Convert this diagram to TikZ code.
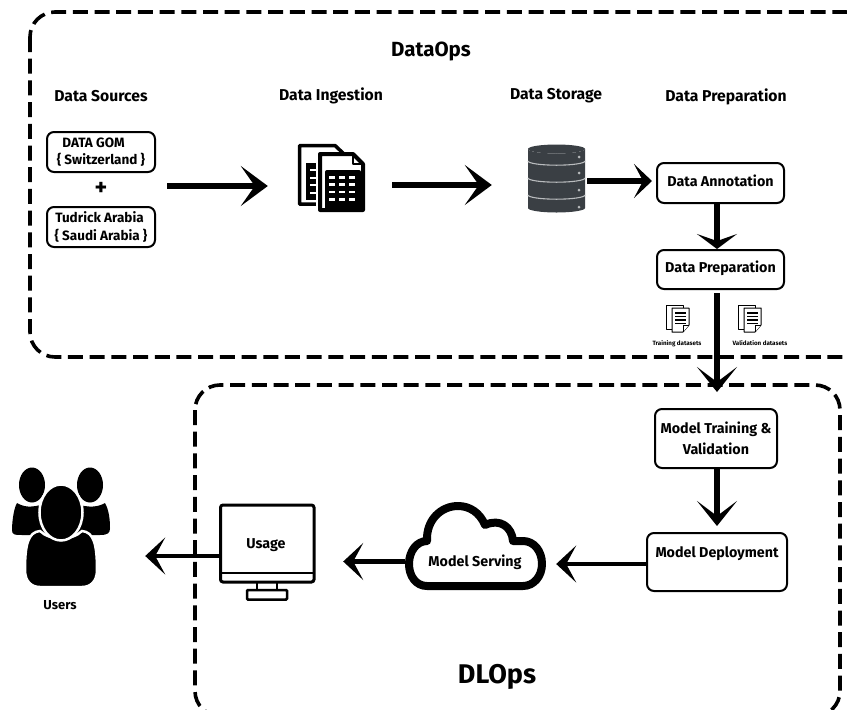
\documentclass[tikz,border=0pt]{standalone}
\usepackage{fontspec}
\setmainfont{Fira Sans}
\usetikzlibrary{arrows.meta}
\definecolor{dbdark}{HTML}{3A3F44}
\definecolor{dbgrey}{HTML}{B8BBBD}
\tikzset{
  x=1pt,y=-1pt,
  every node/.style={font=\bfseries\fontsize{14.3}{18}\selectfont,align=center,text=black,inner sep=0pt},
  groupbox/.style={draw=black,line width=3.6pt,rounded corners=25pt,dash pattern=on 15pt off 6.7pt},
  procbox/.style={draw=black,line width=2pt,rounded corners=7pt,fill=white},
  srcbox/.style={procbox,minimum width=108pt,minimum height=40pt,font=\bfseries\fontsize{13.5}{17.5}\selectfont},
  heading/.style={font=\bfseries\fontsize{15.7}{18}\selectfont},
  tiny/.style={font=\bfseries\fontsize{6.2}{7}\selectfont},
  iconbox/.style={inner sep=0pt,draw=none},
  bigarrow/.style={line width=6.5pt,-{Stealth[length=27pt,width=40pt,inset=14pt]}},
  tallarrow/.style={line width=5.5pt,-{Stealth[length=25pt,width=40pt,inset=15pt]}},
  flatarrow/.style={line width=5.5pt,-{Stealth[length=15pt,width=40pt,inset=7pt]}},
  sidearrow/.style={line width=5.5pt,-{Stealth[length=18pt,width=34pt,inset=9pt]}},
  thinarrow/.style={line width=4.5pt,-{Stealth[length=20pt,width=37pt,inset=10pt]}},
  sheet/.style={draw=black,line width=1pt,fill=white,line join=round},
  pics/minidoc/.style={code={
    \draw[sheet] (0,0) -- (17,0) -- (17,24) -- (0,24) -- cycle;
    \draw[sheet] (6,3) -- (23,3) -- (23,20) -- (17,27) -- (6,27) -- cycle;
    \draw[sheet] (23,20) -- (17,20) -- (17,27);
    \foreach \yy in {8,11.5,15,18.5}{\draw[black,line width=1.1pt] (9,\yy) -- (20,\yy);}
  }}
}
\begin{document}
\begin{tikzpicture}
\useasboundingbox (0,0) rectangle (847,710);
\clip (0,0) rectangle (847,710);
\fill[white] (0,0) rectangle (847,710);

% group frames
\draw[groupbox] (30,12) rectangle (871,357);
\draw[groupbox] (195,385) rectangle (840,716);

% titles and headings
\node[font=\bfseries\fontsize{20.5}{24}\selectfont] (dataops) at (431,51) {DataOps};
\node[font=\bfseries\fontsize{27}{30}\selectfont] (dlops) at (497,677) {DLOps};
\node[heading] (hsrc) at (101,96) {Data Sources};
\node[heading] (hing) at (331,96) {Data Ingestion};
\node[heading] (hsto) at (556,96) {Data Storage};
\node[heading] (hpre) at (726,97) {Data Preparation};

% data sources
\node[srcbox] (gom) at (101,152) {DATA GOM\hspace*{15pt}\\\{ Switzerland \}};
\node[srcbox] (tud) at (101,227) {Tudrick Arabia\hspace*{3pt}\\\{ Saudi Arabia \}};
\node[font=\bfseries\fontsize{24}{24}\selectfont] (plus) at (101,189) {+};
\coordinate (srcout) at (167,186);

% ingestion icon
\node[iconbox,minimum width=67pt,minimum height=68pt] (docs) at (331.5,178) {};
\draw[black,line width=3.5pt,line join=round,fill=white] (299.5,145.5) -- (335,145.5) -- (344,154) -- (344,204) -- (299.5,204) -- cycle;
\fill[black] (306,163) rectangle (322,200);
\foreach \yy in {169,176.5,184,191.5}{\fill[white] (310,\yy) rectangle (317,\yy+2.3);}
\draw[white,line width=2pt] (316.5,148) -- (316.5,212);
\draw[black,line width=4pt,line join=round,fill=white] (320,154) -- (353,154) -- (363,164) -- (363,210) -- (320,210) -- cycle;
\draw[black,line width=2pt,line join=round] (353,154) -- (353,164) -- (363,164);
\fill[black,rounded corners=2pt] (325,170) rectangle (361,210);
\foreach \xx in {332,342,351.5}{\foreach \yy in {176,183,190.5,198}{\fill[white] (\xx-3,\yy) rectangle (\xx+3,\yy+2.5);}}

% storage icon
\node[iconbox,minimum width=57pt,minimum height=68pt] (db) at (556.5,179) {};
\fill[dbdark] (528,149) arc[x radius=28.5pt,y radius=4.5pt,start angle=180,end angle=360] -- (585,208) arc[x radius=28.5pt,y radius=4.5pt,start angle=360,end angle=180] -- cycle;
\fill[dbdark] (556.5,149) ellipse[x radius=28.5pt,y radius=4.5pt];
\foreach \yy in {161,178,195}{\draw[dbgrey,line width=1.1pt] (528,\yy) arc[x radius=28.5pt,y radius=4.2pt,start angle=180,end angle=360];}
\foreach \yy in {157,173,190,207}{\fill[dbgrey] (579,\yy) circle[radius=1.5pt];}

% preparation
\node[procbox,minimum width=127pt,minimum height=40pt,text height=10pt,text depth=4pt] (anno) at (720.5,183) {Data Annotation};
\node[procbox,minimum width=127pt,minimum height=39pt,text height=10pt,text depth=5pt] (prep) at (720.5,269.5) {Data Preparation};
\pic at (666,305) {minidoc};
\pic at (738,305) {minidoc};
\node[tiny] (ltrain) at (677,344) {Training datasets};
\node[tiny] (lval) at (760,343) {Validation datasets};
\coordinate (annoout) at (717,203);
\coordinate (prepin) at (717,249);
\coordinate (prepout) at (717,293);

% DLOps
\node[procbox,minimum width=122pt,minimum height=59pt,font=\bfseries\fontsize{14.3}{21}\selectfont] (train) at (716,438.5) {Model Training \&\\Validation};
\node[procbox,minimum width=140pt,minimum height=58pt,text height=10pt,text depth=20pt] (deploy) at (717,562) {Model Deployment};

% cloud
\node[iconbox,minimum width=141pt,minimum height=90pt] (cloud) at (475.5,545) {};
\draw[black,line width=8pt,line join=round,fill=white]
  (427,586) .. controls (416,586) and (409,576) .. (409,564)
  .. controls (409,551) and (417,541) .. (427,541)
  .. controls (426,520) and (441,506) .. (458,506)
  .. controls (470,506) and (480,513) .. (485,525)
  .. controls (500,518) and (512,527) .. (513,541)
  -- (523,541) .. controls (534,541) and (542,551) .. (542,564)
  .. controls (542,576) and (534,586) .. (523,586) -- cycle;
\node (serving) at (475,562) {Model Serving};

% monitor
\node[iconbox,minimum width=97pt,minimum height=79pt] (usage) at (266.5,543.5) {};
\draw[black,line width=3pt,rounded corners=2.5pt,fill=white] (220.5,505) rectangle (314,582);
\draw[black,line width=2.5pt] (220.5,573) -- (314,573);
\draw[black,line width=2.5pt] (257,582) -- (257,590) (277,582) -- (277,590);
\draw[black,line width=2.5pt,rounded corners=1pt,fill=white] (247,590) rectangle (287,599.5);
\node (usagetxt) at (266,545) {Usage};

% users icon
\node[iconbox,minimum width=100pt,minimum height=120pt] (users) at (61,525) {};
\fill[black] (32,485) ellipse[x radius=13pt,y radius=17.5pt];
\fill[black] (90,485) ellipse[x radius=13pt,y radius=17.5pt];
\fill[black] (17,503) .. controls (13,510) and (12,525) .. (12,530) .. controls (12,535) and (15,535) .. (22,535) -- (100,535) .. controls (108,535) and (110,533) .. (110,528) .. controls (110,520) and (109,510) .. (105,503) .. controls (98,507) and (90,508) .. (75,504) -- (45,504) .. controls (30,508) and (24,507) .. (17,503) -- cycle;
\draw[white,line width=2.5pt,fill=black] (40,531) .. controls (28,532) and (25,545) .. (25,570) .. controls (25,582) and (32,587) .. (40,587) -- (82,587) .. controls (90,587) and (97,582) .. (97,570) .. controls (97,545) and (94,532) .. (82,531) .. controls (72,541) and (50,541) .. (40,531) -- cycle;
\draw[white,line width=2.5pt,fill=black] (61,512.5) ellipse[x radius=21.5pt,y radius=28pt];
\node[font=\bfseries\fontsize{13}{16}\selectfont] (ulabel) at (60,605) {Users};

% connectors
\draw[bigarrow] (srcout) -- (srcout -| docs.west) [shorten >=30pt];
\coordinate (docsout) at (392,185);
\draw[bigarrow] (docsout) -- (docsout -| db.west) [shorten >=36pt];
\coordinate (dbout) at (587,181);
\draw[sidearrow] (dbout) -- (anno.west |- dbout) [shorten >=4pt];
\draw[flatarrow] (annoout) -- (prepin);
\draw[tallarrow] (prepout) -- (prepout |- train.north) [shorten >=16pt];
\draw[tallarrow] (train.south -| prepout) -- (prepout |- deploy.north) [shorten >=6pt];
\coordinate (depout) at (647,564);
\draw[thinarrow] (depout) -- (cloud.east |- depout) [shorten >=10pt];
\coordinate (cloudout) at (405,561.5);
\draw[thinarrow] (cloudout) -- (usage.east |- cloudout) [shorten >=28pt];
\coordinate (usageout) at (219,556);
\draw[thinarrow] (usageout) -- (users.east |- usageout) [shorten >=34pt];
\end{tikzpicture}
\end{document}
